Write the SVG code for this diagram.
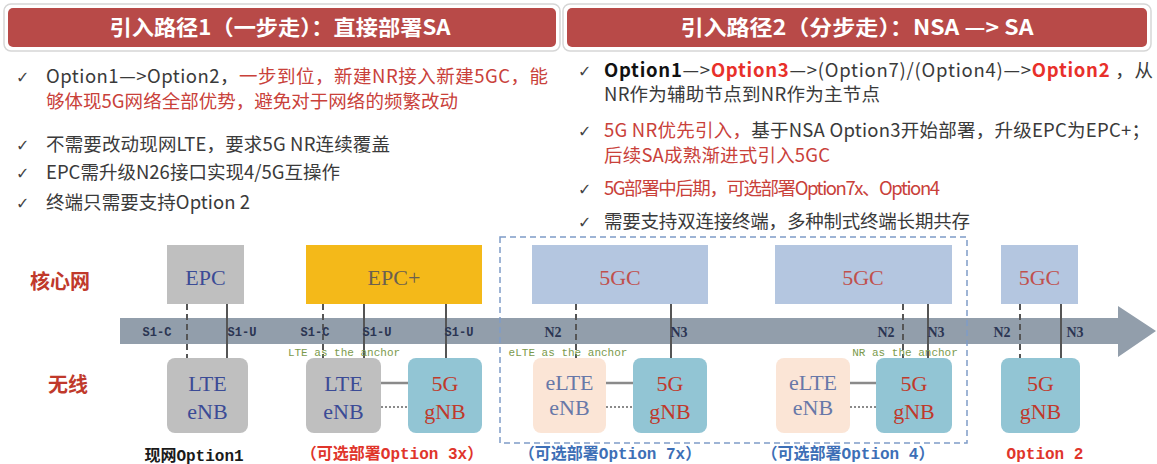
<svg xmlns="http://www.w3.org/2000/svg" width="1157" height="464" viewBox="0 0 1157 464">
<defs>
<style>
.hdr{fill:#b84a48;}
.hdrbg{fill:#ffffff;stroke:#d6d6d6;stroke-width:1.5;}
.hdrt{font-family:"Noto Sans CJK SC","Noto Sans",sans-serif;font-size:21px;font-weight:bold;fill:#ffffff;text-anchor:middle;}
.bt{font-family:"Noto Sans CJK SC","Noto Sans",sans-serif;font-size:18.5px;fill:#3a3a3a;}
.red{fill:#c9413a;}
.bred{fill:#e8302a;font-weight:bold;}
.chk{font-family:"DejaVu Sans",sans-serif;font-size:16px;fill:#444;}
.row{font-family:"Noto Sans CJK SC",sans-serif;font-size:20px;font-weight:bold;fill:#c0392b;text-anchor:middle;}
.box{font-family:"Liberation Serif",serif;font-size:22px;text-anchor:middle;}
.lbl{font-family:"Liberation Mono",monospace;font-size:12px;font-weight:bold;fill:#2b3552;text-anchor:middle;}
.nl{font-family:"Liberation Serif",serif;font-size:14px;font-weight:bold;fill:#2b3552;text-anchor:middle;}
.anc{font-family:"Liberation Mono",monospace;font-size:11px;fill:#7b9a4c;text-anchor:middle;}
.cap{font-family:"Liberation Mono","Noto Sans CJK SC",monospace;font-size:16px;font-weight:bold;text-anchor:middle;}
.vs{stroke:#555;stroke-width:2;fill:none;}
.vd{stroke:#555;stroke-width:2;stroke-dasharray:6 4;fill:none;}
.cs{stroke:#8a8a8a;stroke-width:2.5;fill:none;}
.cd{stroke:#8a8a8a;stroke-width:2;stroke-dasharray:2 2;fill:none;}
.gray{fill:#bfbfbf;}
.gnb{fill:#92c5d4;}
.elte{fill:#fbe5d6;}
.core{fill:#b4c6e0;}
</style>
</defs>
<rect width="1157" height="464" fill="#ffffff"/>

<g id="header1">
<rect class="hdrbg" x="4" y="4" width="556" height="47" rx="7"/>
<rect class="hdr" x="8" y="8" width="548" height="39" rx="5"/>
<text class="hdrt" x="280" y="35" textLength="341" lengthAdjust="spacingAndGlyphs">引入路径1（一步走）：直接部署SA</text>
</g>
<g id="header2">
<rect class="hdrbg" x="563" y="4" width="588" height="47" rx="7"/>
<rect class="hdr" x="567" y="8" width="580" height="39" rx="5"/>
<text class="hdrt" x="857" y="35" textLength="353" lengthAdjust="spacingAndGlyphs">引入路径2（分步走）：NSA —&gt; SA</text>
</g>

<g id="bullets-left">
<text class="chk" x="16" y="83">✓</text>
<text class="bt" x="46" y="83" textLength="502">Option1—&gt;Option2，<tspan class="red">一步到位，新建NR接入新建5GC，能</tspan></text>
<text class="bt red" x="46" y="108" textLength="412">够体现5G网络全部优势，避免对于网络的频繁改动</text>
<text class="chk" x="16" y="151">✓</text>
<text class="bt" x="46" y="151" textLength="344">不需要改动现网LTE，要求5G NR连续覆盖</text>
<text class="chk" x="16" y="179">✓</text>
<text class="bt" x="46" y="179" textLength="294">EPC需升级N26接口实现4/5G互操作</text>
<text class="chk" x="16" y="209">✓</text>
<text class="bt" x="46" y="209" textLength="204">终端只需要支持Option 2</text>
</g>

<g id="bullets-right">
<text class="chk" x="578" y="77">✓</text>
<text class="bt" x="604" y="77" textLength="549"><tspan font-weight="bold" fill="#111">Option1</tspan>—&gt;<tspan class="bred">Option3</tspan>—&gt;(Option7)/(Option4)—&gt;<tspan class="bred">Option2</tspan> ，从</text>
<text class="bt" x="604" y="101" textLength="276">NR作为辅助节点到NR作为主节点</text>
<text class="chk" x="578" y="137">✓</text>
<text class="bt" x="604" y="137" textLength="546"><tspan class="red">5G NR优先引入，</tspan>基于NSA Option3开始部署，升级EPC为EPC+；</text>
<text class="bt red" x="604" y="162" textLength="226">后续SA成熟渐进式引入5GC</text>
<text class="chk" x="578" y="195">✓</text>
<text class="bt red" x="604" y="195" textLength="336">5G部署中后期，可选部署Option7x、Option4</text>
<text class="chk" x="578" y="228">✓</text>
<text class="bt" x="604" y="228" textLength="366">需要支持双连接终端，多种制式终端长期共存</text>
</g>

<g id="row-labels">
<text class="row" x="60" y="289">核心网</text>
<text class="row" x="68" y="392">无线</text>
</g>

<g id="timeline-arrow">
<polygon points="120,318 1118,318 1118,306 1156,331 1118,357 1118,344 120,344" fill="#929eab"/>
</g>

<g id="group-box">
<rect x="500" y="237" width="467" height="206" fill="none" stroke="#7f9cc8" stroke-width="1.5" stroke-dasharray="6 4"/>
</g>

<g id="node-epc">
<rect class="gray" x="167" y="245" width="77" height="59"/>
<text class="box" x="205.5" y="285" fill="#3b4b96">EPC</text>
</g>
<g id="node-epcplus">
<rect x="306" y="245" width="176" height="59" fill="#f4b919"/>
<text class="box" x="394" y="285" fill="#6b6050">EPC+</text>
</g>
<g id="node-5gc-1">
<rect class="core" x="532" y="245" width="176" height="59"/>
<text class="box" x="620" y="285" fill="#c0504d">5GC</text>
</g>
<g id="node-5gc-2">
<rect class="core" x="775" y="245" width="177" height="59"/>
<text class="box" x="863" y="285" fill="#c0504d">5GC</text>
</g>
<g id="node-5gc-3">
<rect class="core" x="1001" y="245" width="77" height="59"/>
<text class="box" x="1039.5" y="285" fill="#c0504d">5GC</text>
</g>

<g id="connectors">
<line class="vd" x1="187" y1="304" x2="187" y2="358"/>
<line class="vs" x1="227" y1="304" x2="227" y2="358"/>
<line class="vd" x1="323" y1="304" x2="323" y2="358"/>
<line class="vs" x1="364" y1="304" x2="364" y2="358"/>
<line class="vs" x1="446" y1="304" x2="446" y2="358"/>
<line class="vd" x1="576" y1="304" x2="576" y2="358"/>
<line class="vs" x1="671" y1="304" x2="671" y2="358"/>
<line class="vd" x1="903" y1="304" x2="903" y2="358"/>
<line class="vs" x1="928" y1="304" x2="928" y2="358"/>
<line class="vd" x1="1020" y1="304" x2="1020" y2="358"/>
<line class="vs" x1="1061" y1="304" x2="1061" y2="358"/>
<line class="cs" x1="381" y1="383" x2="408" y2="383"/>
<line class="cd" x1="381" y1="407" x2="408" y2="407"/>
<line class="cs" x1="606" y1="383" x2="633" y2="383"/>
<line class="cd" x1="606" y1="407" x2="633" y2="407"/>
<line class="cs" x1="850" y1="383" x2="876" y2="383"/>
<line class="cd" x1="850" y1="407" x2="876" y2="407"/>
<text class="lbl" x="157" y="336">S1-C</text>
<text class="lbl" x="242" y="336">S1-U</text>
<text class="lbl" x="315" y="336">S1-C</text>
<text class="lbl" x="377" y="336">S1-U</text>
<text class="lbl" x="459" y="336">S1-U</text>
<text class="nl" x="553" y="337">N2</text>
<text class="nl" x="679" y="337">N3</text>
<text class="nl" x="886" y="337">N2</text>
<text class="nl" x="936" y="337">N3</text>
<text class="nl" x="1002" y="337">N2</text>
<text class="nl" x="1075" y="337">N3</text>
<text class="anc" x="344" y="356">LTE as the anchor</text>
<text class="anc" x="568" y="356">eLTE as the anchor</text>
<text class="anc" x="905" y="356">NR as the anchor</text>
</g>

<g id="node-lte-1">
<rect class="gray" x="167" y="358" width="81" height="75" rx="8"/>
<text class="box" x="207.5" y="391" fill="#3b4b96">LTE</text>
<text class="box" x="207.5" y="419" fill="#3b4b96">eNB</text>
</g>
<g id="node-lte-2">
<rect class="gray" x="306" y="358" width="75" height="75" rx="8"/>
<text class="box" x="343.5" y="391" fill="#3b4b96">LTE</text>
<text class="box" x="343.5" y="419" fill="#3b4b96">eNB</text>
</g>
<g id="node-gnb-1">
<rect class="gnb" x="408" y="358" width="74" height="75" rx="8"/>
<text class="box" x="445" y="391" fill="#c0392b">5G</text>
<text class="box" x="445" y="419" fill="#c0392b">gNB</text>
</g>
<g id="node-elte-1">
<rect class="elte" x="533" y="358" width="73" height="75" rx="8"/>
<text class="box" x="569.5" y="390" font-size="17" fill="#6878a8">eLTE</text>
<text class="box" x="569.5" y="415" font-size="17" fill="#6878a8">eNB</text>
</g>
<g id="node-gnb-2">
<rect class="gnb" x="633" y="358" width="74" height="75" rx="8"/>
<text class="box" x="670" y="391" fill="#c0392b">5G</text>
<text class="box" x="670" y="419" fill="#c0392b">gNB</text>
</g>
<g id="node-elte-2">
<rect class="elte" x="776" y="358" width="74" height="75" rx="8"/>
<text class="box" x="813" y="390" font-size="17" fill="#6878a8">eLTE</text>
<text class="box" x="813" y="415" font-size="17" fill="#6878a8">eNB</text>
</g>
<g id="node-gnb-3">
<rect class="gnb" x="876" y="358" width="76" height="75" rx="8"/>
<text class="box" x="914" y="391" fill="#c0392b">5G</text>
<text class="box" x="914" y="419" fill="#c0392b">gNB</text>
</g>
<g id="node-gnb-4">
<rect class="gnb" x="1001" y="358" width="79" height="75" rx="8"/>
<text class="box" x="1040.5" y="391" fill="#c0392b">5G</text>
<text class="box" x="1040.5" y="419" fill="#c0392b">gNB</text>
</g>

<g id="captions">
<text class="cap" x="194" y="461" fill="#1a1a1a">现网Option1</text>
<text class="cap" x="392" y="459" fill="#e0352b">（可选部署Option 3x）</text>
<text class="cap" x="610" y="459" fill="#3d6fb6">（可选部署Option 7x）</text>
<text class="cap" x="848" y="459" fill="#3d6fb6">（可选部署Option 4）</text>
<text class="cap" x="1045" y="459" fill="#e0352b">Option 2</text>
</g>
</svg>
